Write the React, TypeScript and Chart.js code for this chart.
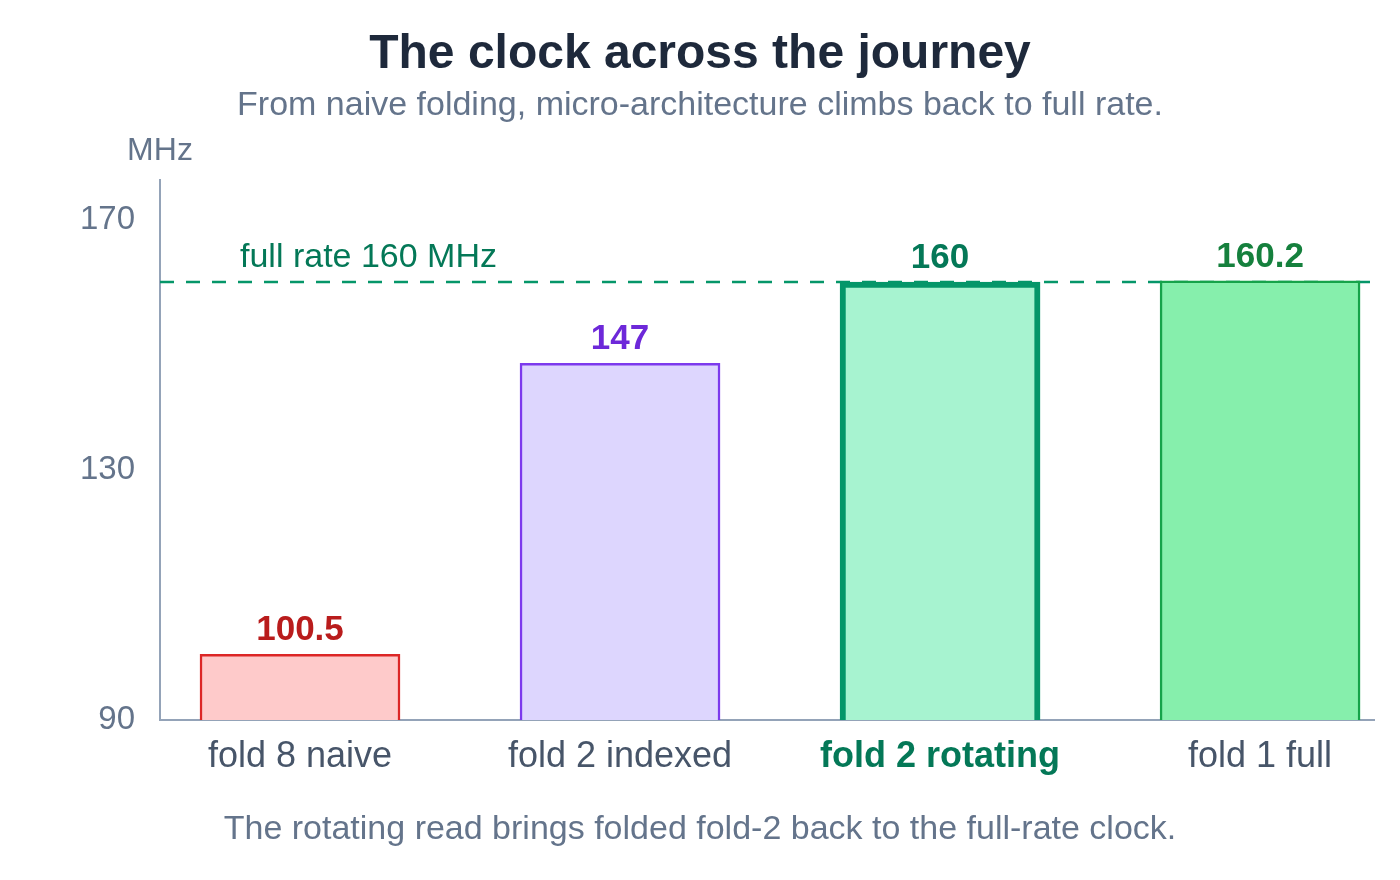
import { useEffect, useRef } from "react";
import { Chart, registerables } from "chart.js";

Chart.register(...registerables);

const categories = ["fold 8 naive", "fold 2 indexed", "fold 2 rotating", "fold 1 full"];
const clockMHz = [100.5, 147, 160, 160.2];
const yTicks = [90, 130, 170];
const fullRate = 160;

const FONT = "'Liberation Sans', Arial, sans-serif";
const fills = ["#fecaca", "#ddd6fe", "#a7f3d0", "#86efac"];
const borders = ["#dc2626", "#7c3aed", "#059669", "#16a34a"];
const borderWidths = [2.5, 2.5, 6, 2.5];
const labelColors = ["#b91c1c", "#6d28d9", "#047857", "#15803d"];
const highlight = 2;

// draws the texts around the plot, the full-rate line and the value labels
const decor = {
  id: "decor",
  beforeDatasetsDraw(chart: Chart) {
    const { ctx, chartArea, scales } = chart;
    const y = scales.y.getPixelForValue(fullRate);
    ctx.save();
    ctx.strokeStyle = "#059669";
    ctx.lineWidth = 2.5;
    ctx.setLineDash([14, 12]);
    ctx.beginPath();
    ctx.moveTo(chartArea.left, y);
    ctx.lineTo(chartArea.right, y);
    ctx.stroke();
    ctx.setLineDash([]);
    ctx.fillStyle = "#047857";
    ctx.font = `34px ${FONT}`;
    ctx.textAlign = "left";
    ctx.textBaseline = "alphabetic";
    ctx.fillText(`full rate ${fullRate} MHz`, chartArea.left + 80, y - 15);
    ctx.restore();
  },
  afterDatasetsDraw(chart: Chart) {
    const { ctx } = chart;
    const meta = chart.getDatasetMeta(0);
    ctx.save();
    ctx.font = `bold 35px ${FONT}`;
    ctx.textAlign = "center";
    ctx.textBaseline = "alphabetic";
    meta.data.forEach((bar: any, i: number) => {
      ctx.fillStyle = labelColors[i];
      ctx.fillText(String(clockMHz[i]), bar.x, bar.y - 14);
    });
    ctx.restore();
  },
  afterDraw(chart: Chart) {
    const { ctx, chartArea, width } = chart;
    ctx.save();
    ctx.textAlign = "center";
    ctx.textBaseline = "alphabetic";
    ctx.fillStyle = "#1e293b";
    ctx.font = `bold 48px ${FONT}`;
    ctx.fillText("The clock across the journey", width / 2, 68);
    ctx.fillStyle = "#64748b";
    ctx.font = `34px ${FONT}`;
    ctx.fillText("From naive folding, micro-architecture climbs back to full rate.", width / 2, 115);
    ctx.fillText("The rotating read brings folded fold-2 back to the full-rate clock.", width / 2, 839);
    ctx.font = `32px ${FONT}`;
    ctx.fillText("MHz", chartArea.left, 160);
    ctx.restore();
  },
};

export default function App() {
  const canvasRef = useRef<HTMLCanvasElement>(null);

  useEffect(() => {
    const canvas = canvasRef.current;
    if (!canvas) return;
    const chart = new Chart(canvas, {
      type: "bar",
      data: {
        datasets: [
          {
            data: clockMHz.map((v, i) => ({ x: i, y: v })),
            backgroundColor: fills,
            borderColor: borders,
            borderWidth: borderWidths,
            borderSkipped: false,
            barThickness: 200,
          },
        ],
      },
      options: {
        responsive: false,
        animation: false,
        layout: { padding: { top: 180, right: 26, left: 0, bottom: 0 } },
        plugins: { legend: { display: false }, tooltip: { enabled: false } },
        scales: {
          x: {
            type: "linear",
            min: -0.4375,
            max: 3.356,
            offset: false,
            grid: { display: false },
            border: { display: true, color: "#94a3b8", width: 2 },
            afterBuildTicks: (scale: any) => {
              scale.ticks = categories.map((_, i) => ({ value: i }));
            },
            afterFit: (scale: any) => {
              scale.height = 160;
            },
            ticks: {
              autoSkip: false,
              maxRotation: 0,
              padding: 7,
              callback: (v: any) => categories[v] ?? "",
              color: (c: any) => (c.tick && c.tick.value === highlight ? "#047857" : "#475569"),
              font: (c: any) =>
                c.tick && c.tick.value === highlight
                  ? { family: FONT, size: 36, weight: "bold" }
                  : { family: FONT, size: 36 },
            },
          },
          y: {
            min: 90,
            max: 176.3,
            grid: { display: false },
            border: { display: true, color: "#94a3b8", width: 2 },
            afterBuildTicks: (scale: any) => {
              scale.ticks = yTicks.map((v) => ({ value: v }));
            },
            afterFit: (scale: any) => {
              scale.width = 160;
            },
            ticks: {
              padding: 17,
              color: "#64748b",
              font: { family: FONT, size: 33 },
            },
          },
        },
      },
      plugins: [decor],
    });
    return () => chart.destroy();
  }, []);

  return (
    <div style={{ position: "fixed", left: 0, top: 0, width: 1400, height: 880, background: "#fff" }}>
      <canvas ref={canvasRef} width={1400} height={880} />
    </div>
  );
}
